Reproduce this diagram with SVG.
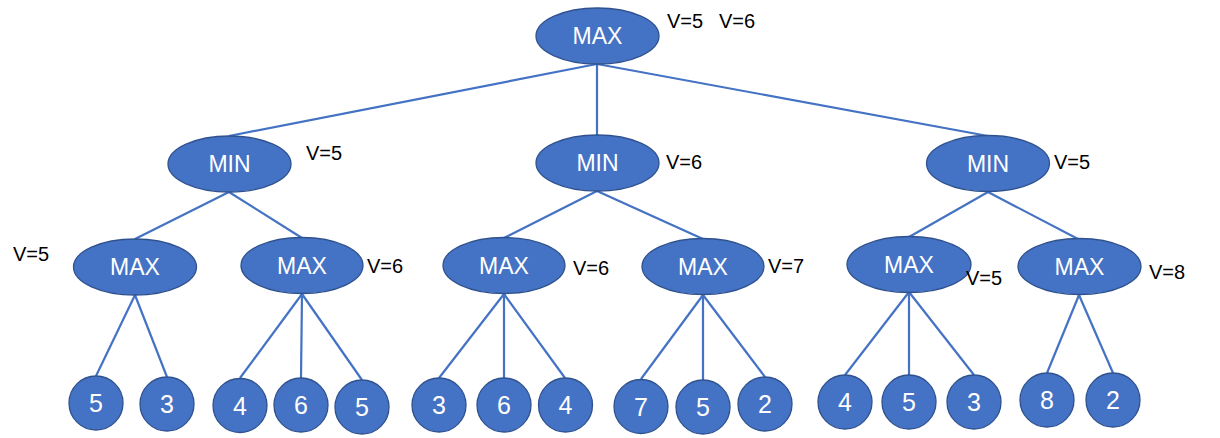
<svg xmlns="http://www.w3.org/2000/svg" width="1220" height="438" viewBox="0 0 1220 438">
<style>
.n{fill:#4472C4;stroke:#2F528F;stroke-width:1.3}
.t{fill:#fff;font-family:"Liberation Sans",Arial,sans-serif;font-size:23px;text-anchor:middle}
.d{fill:#fff;font-family:"Liberation Sans",Arial,sans-serif;font-size:25px;text-anchor:middle}
.v{fill:#000;font-family:"Liberation Sans",Arial,sans-serif;font-size:20px}
.e line{stroke:#4472C4;stroke-width:2.2}
</style>
<rect width="1220" height="438" fill="#fff"/>
<g id="edges" class="e">
<line x1="597" y1="64" x2="229" y2="136"/>
<line x1="597" y1="64" x2="597" y2="135"/>
<line x1="597" y1="64" x2="988" y2="136"/>
<line x1="229" y1="192" x2="135" y2="239"/>
<line x1="229" y1="192" x2="302" y2="238"/>
<line x1="597" y1="191" x2="504" y2="238"/>
<line x1="597" y1="191" x2="703" y2="239"/>
<line x1="988" y1="192" x2="909" y2="237"/>
<line x1="988" y1="192" x2="1078" y2="239"/>
<line x1="135" y1="295" x2="96" y2="376"/>
<line x1="135" y1="295" x2="167" y2="377"/>
<line x1="302" y1="294" x2="240" y2="378"/>
<line x1="302" y1="294" x2="301" y2="378"/>
<line x1="302" y1="294" x2="362" y2="380"/>
<line x1="504" y1="294" x2="439" y2="378"/>
<line x1="504" y1="294" x2="504" y2="378"/>
<line x1="504" y1="294" x2="565" y2="378"/>
<line x1="703" y1="295" x2="641" y2="379"/>
<line x1="703" y1="295" x2="703" y2="380"/>
<line x1="703" y1="295" x2="765" y2="377"/>
<line x1="909" y1="292" x2="845" y2="375"/>
<line x1="909" y1="292" x2="909" y2="375"/>
<line x1="909" y1="292" x2="974" y2="375"/>
<line x1="1079" y1="295" x2="1047" y2="373"/>
<line x1="1079" y1="295" x2="1113" y2="373"/>
</g>
<g id="root"><ellipse class="n" cx="597.5" cy="36" rx="61.5" ry="28"/><text class="t" x="597.5" y="44">MAX</text><text class="v" x="667" y="28">V=5</text><text class="v" x="719" y="28">V=6</text></g>
<g id="min1"><ellipse class="n" cx="229.5" cy="164" rx="61.5" ry="28"/><text class="t" x="229.5" y="172">MIN</text><text class="v" x="306" y="160">V=5</text></g>
<g id="min2"><ellipse class="n" cx="597.5" cy="163" rx="61.5" ry="28"/><text class="t" x="597.5" y="171">MIN</text><text class="v" x="666" y="169">V=6</text></g>
<g id="min3"><ellipse class="n" cx="988" cy="163.5" rx="61.5" ry="28"/><text class="t" x="988" y="171.5">MIN</text><text class="v" x="1054" y="169">V=5</text></g>
<g id="max1"><ellipse class="n" cx="135" cy="267" rx="61.5" ry="28"/><text class="t" x="135" y="275">MAX</text><text class="v" x="13" y="261">V=5</text></g>
<g id="max2"><ellipse class="n" cx="302" cy="265.5" rx="61" ry="28"/><text class="t" x="302" y="273.5">MAX</text><text class="v" x="367" y="273">V=6</text></g>
<g id="max3"><ellipse class="n" cx="504" cy="265.5" rx="61" ry="28"/><text class="t" x="504" y="273.5">MAX</text><text class="v" x="573" y="275">V=6</text></g>
<g id="max4"><ellipse class="n" cx="703" cy="266.5" rx="61" ry="28"/><text class="t" x="703" y="274.5">MAX</text><text class="v" x="768" y="273">V=7</text></g>
<g id="max5"><ellipse class="n" cx="909" cy="264.5" rx="62" ry="28"/><text class="t" x="909" y="272.5">MAX</text><text class="v" x="966" y="285">V=5</text></g>
<g id="max6"><ellipse class="n" cx="1079.5" cy="266.5" rx="61.5" ry="28"/><text class="t" x="1079.5" y="274.5">MAX</text><text class="v" x="1149" y="279">V=8</text></g>
<g id="l1"><circle class="n" cx="96" cy="403" r="27"/><text class="d" x="96" y="412">5</text></g>
<g id="l2"><circle class="n" cx="167" cy="404" r="27"/><text class="d" x="167" y="413">3</text></g>
<g id="l3"><circle class="n" cx="240" cy="405.5" r="27"/><text class="d" x="240" y="414.5">4</text></g>
<g id="l4"><circle class="n" cx="301" cy="405" r="27"/><text class="d" x="301" y="414">6</text></g>
<g id="l5"><circle class="n" cx="362" cy="407" r="27"/><text class="d" x="362" y="416">5</text></g>
<g id="l6"><circle class="n" cx="439" cy="405" r="27"/><text class="d" x="439" y="414">3</text></g>
<g id="l7"><circle class="n" cx="504" cy="405" r="27"/><text class="d" x="504" y="414">6</text></g>
<g id="l8"><circle class="n" cx="565.5" cy="405" r="27"/><text class="d" x="565.5" y="414">4</text></g>
<g id="l9"><circle class="n" cx="641" cy="406.5" r="27"/><text class="d" x="641" y="415.5">7</text></g>
<g id="l10"><circle class="n" cx="703" cy="407" r="27"/><text class="d" x="703" y="416">5</text></g>
<g id="l11"><circle class="n" cx="765" cy="404" r="27"/><text class="d" x="765" y="413">2</text></g>
<g id="l12"><circle class="n" cx="845" cy="402" r="27"/><text class="d" x="845" y="411">4</text></g>
<g id="l13"><circle class="n" cx="909" cy="402" r="27"/><text class="d" x="909" y="411">5</text></g>
<g id="l14"><circle class="n" cx="974" cy="402" r="27"/><text class="d" x="974" y="411">3</text></g>
<g id="l15"><circle class="n" cx="1047" cy="400" r="27"/><text class="d" x="1047" y="409">8</text></g>
<g id="l16"><circle class="n" cx="1113" cy="400" r="27"/><text class="d" x="1113" y="409">2</text></g>
</svg>
